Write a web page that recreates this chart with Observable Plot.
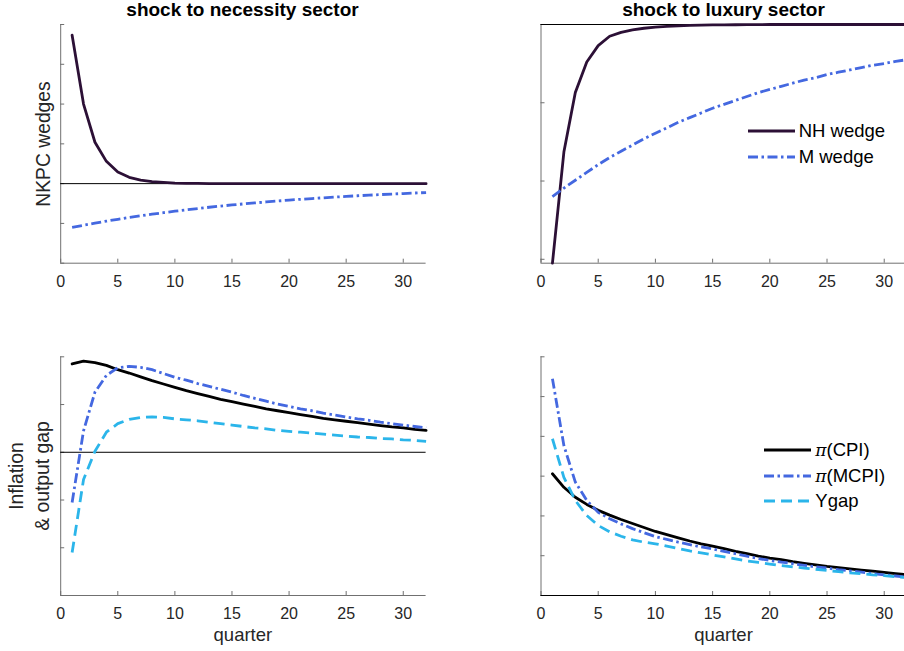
<!DOCTYPE html>
<html>
<head>
<meta charset="utf-8">
<script src="https://cdn.jsdelivr.net/npm/d3@7"></script>
<script src="https://cdn.jsdelivr.net/npm/@observablehq/plot@0.6"></script>
<style>
  html, body { margin: 0; padding: 0; background: #fff; overflow: hidden; }
  #fig { position: relative; width: 904px; height: 651px; overflow: hidden;
         font-family: "Liberation Sans", Arial, Helvetica, sans-serif; }
  .panel { position: absolute; }
  .title { position: absolute; font-weight: bold; font-size: 19px; line-height: 19px;
           color: #000; white-space: nowrap; transform: translateX(-50%); }
  .ylab { position: absolute; font-size: 19.3px; color: #262626; white-space: nowrap;
          text-align: center; transform: translate(-50%, -50%) rotate(-90deg); }
  .xlab { position: absolute; font-size: 18.5px; line-height: 18.5px; color: #262626;
          white-space: nowrap; transform: translateX(-50%); }
  .legend { position: absolute; font-size: 18.5px; color: #000; }
  .legend .row { display: flex; align-items: center; height: 25.7px; white-space: nowrap; }
  .legend svg { display: block; margin-right: 4px; }
  .pi { font-family: "DejaVu Serif", serif; font-style: italic; font-size: 17px; }
</style>
</head>
<body>
<div id="fig"></div>
<script>
// Impulse responses over 32 quarters
const quarters = [1, 2, 3, 4, 5, 6, 7, 8, 9, 10, 11, 12, 13, 14, 15, 16,
                  17, 18, 19, 20, 21, 22, 23, 24, 25, 26, 27, 28, 29, 30, 31, 32];

// Shock to necessity sector: NKPC wedges
const necNH = [3.73, 2.00, 1.04, 0.56, 0.29, 0.16, 0.09, 0.05, 0.03, 0.015, 0.008, 0.004, 0.002, 0.001, 0, 0,
               0, 0, 0, 0, 0, 0, 0, 0, 0, 0, 0, 0, 0, 0, 0, 0];
const necM = [-1.10, -1.045, -0.993, -0.943, -0.896, -0.851, -0.809, -0.768, -0.730, -0.693, -0.659, -0.626,
              -0.594, -0.565, -0.536, -0.510, -0.484, -0.460, -0.437, -0.415, -0.394, -0.375, -0.356, -0.338,
              -0.321, -0.305, -0.290, -0.275, -0.262, -0.249, -0.236, -0.224];

// Shock to luxury sector: NKPC wedges
const luxNH = [-3.05, -1.63, -0.87, -0.48, -0.27, -0.15, -0.10, -0.068, -0.048, -0.034, -0.024, -0.017,
               -0.012, -0.008, -0.006, -0.004, -0.003, -0.002, -0.001, 0, 0, 0, 0, 0, 0, 0, 0, 0, 0, 0, 0, 0];
const luxM = [-2.20, -2.09, -1.99, -1.89, -1.79, -1.70, -1.62, -1.54, -1.46, -1.39, -1.32, -1.25, -1.19,
              -1.13, -1.07, -1.02, -0.97, -0.92, -0.87, -0.83, -0.79, -0.75, -0.71, -0.68, -0.64, -0.61,
              -0.58, -0.55, -0.52, -0.50, -0.47, -0.45];

// Shock to necessity sector: inflation and output gap
const necCPI = [1.85, 1.91, 1.88, 1.82, 1.73, 1.66, 1.58, 1.50, 1.43, 1.36, 1.29, 1.23, 1.17, 1.11, 1.06, 1.01,
                0.96, 0.91, 0.87, 0.83, 0.79, 0.75, 0.71, 0.68, 0.65, 0.62, 0.59, 0.56, 0.53, 0.51, 0.48, 0.46];
const necMCPI = [-1.05, 0.45, 1.26, 1.61, 1.77, 1.80, 1.78, 1.73, 1.65, 1.57, 1.51, 1.44, 1.38, 1.32, 1.26, 1.19,
                 1.13, 1.07, 1.01, 0.96, 0.91, 0.87, 0.82, 0.78, 0.74, 0.70, 0.67, 0.63, 0.60, 0.57, 0.54, 0.51];
const necYgap = [-2.10, -0.57, 0.02, 0.42, 0.60, 0.69, 0.73, 0.74, 0.73, 0.70, 0.68, 0.66, 0.63, 0.60, 0.57, 0.54,
                 0.51, 0.49, 0.46, 0.44, 0.42, 0.40, 0.38, 0.36, 0.34, 0.32, 0.31, 0.29, 0.28, 0.26, 0.25, 0.23];

// Shock to luxury sector: inflation and output gap
const luxCPI = [3.06, 2.72, 2.47, 2.29, 2.14, 2.02, 1.91, 1.81, 1.71, 1.61, 1.53, 1.45, 1.37, 1.30, 1.24, 1.18,
                1.11, 1.05, 0.99, 0.94, 0.90, 0.85, 0.81, 0.77, 0.73, 0.70, 0.67, 0.64, 0.61, 0.58, 0.55, 0.52];
const luxMCPI = [5.45, 3.77, 2.85, 2.39, 2.09, 1.93, 1.80, 1.68, 1.58, 1.48, 1.41, 1.34, 1.28, 1.22, 1.17, 1.11,
                 1.05, 0.99, 0.93, 0.88, 0.84, 0.80, 0.76, 0.72, 0.69, 0.65, 0.62, 0.59, 0.55, 0.52, 0.49, 0.46];
const luxYgap = [3.94, 2.97, 2.39, 2.01, 1.76, 1.60, 1.49, 1.40, 1.34, 1.30, 1.24, 1.18, 1.12, 1.07, 1.02, 0.97,
                 0.92, 0.87, 0.83, 0.79, 0.75, 0.72, 0.69, 0.66, 0.63, 0.60, 0.57, 0.55, 0.52, 0.50, 0.47, 0.45];

// Axis ticks
const xTicks = [0, 5, 10, 15, 20, 25, 30];
const yTicksNecWedge = [-2, -1, 0, 1, 2, 3, 4];
const yTicksLuxWedge = [-3, -2, -1, 0];
const yTicksNecInfl = [-3, -2, -1, 0, 1, 2];
const yTicksLuxInfl = [0, 1, 2, 3, 4, 5, 6];

// Series styles
const styles = {
  nh:   { label: "NH wedge", stroke: "#2c1036", dash: null },
  m:    { label: "M wedge", stroke: "#4468e0", dash: "10,3.5,2.5,3.5" },
  cpi:  { label: "CPI", stroke: "#000000", dash: null },
  mcpi: { label: "MCPI", stroke: "#4468e0", dash: "10,3.5,2.5,3.5" },
  ygap: { label: "Ygap", stroke: "#2bb5ea", dash: "11,6" }
};
const axisColor = "#707070";
const lineWidth = 2.8;

const fig = document.getElementById("fig");

function lineMark(values, style) {
  const rows = quarters.map((q, i) => ({ q, v: values[i] }));
  return Plot.line(rows, {
    x: "q", y: "v", stroke: style.stroke, strokeWidth: lineWidth,
    strokeDasharray: style.dash || undefined,
    strokeLinecap: style.dash ? "butt" : "round"
  });
}

function panel({ left, top, width, height, margin, yDomain, yTicks, series }) {
  const yMin = yDomain[0];
  const svg = Plot.plot({
    width, height,
    marginLeft: margin[0], marginRight: margin[1], marginTop: margin[2], marginBottom: margin[3],
    x: { domain: [0, 32] },
    y: { domain: yDomain, axis: null },
    style: { fontFamily: "Liberation Sans, Arial, sans-serif", fontSize: "16px", color: "#262626",
             background: "transparent", overflow: "visible" },
    marks: [
      // axis lines
      Plot.ruleX([0], { stroke: axisColor, strokeWidth: 1 }),
      Plot.ruleY([yMin], { stroke: axisColor, strokeWidth: 1 }),
      // inward tick marks
      Plot.ruleX(xTicks, { x: d => d, y1: yMin, y2: yMin, insetBottom: 4, stroke: axisColor }),
      Plot.ruleY(yTicks, { y: d => d, x1: 0, x2: 0, insetRight: -4, stroke: axisColor }),
      // zero reference
      Plot.ruleY([0], { stroke: "#000", strokeWidth: 1 }),
      ...series.map(([vals, st]) => lineMark(vals, st)),
      Plot.axisX(xTicks, { tickSize: 0, tickPadding: 12, label: null })
    ]
  });
  const div = document.createElement("div");
  div.className = "panel";
  div.style.left = left + "px";
  div.style.top = top + "px";
  div.style.width = width + "px";
  div.style.height = height + "px";
  div.appendChild(svg);
  fig.appendChild(div);
}

panel({ left: 0, top: 0, width: 452, height: 300, margin: [60.2, 26.4, 24, 37.3],
        yDomain: [-2, 4], yTicks: yTicksNecWedge,
        series: [[necNH, styles.nh], [necM, styles.m]] });
panel({ left: 480, top: 0, width: 452, height: 300, margin: [60.5, 25.4, 24, 37.3],
        yDomain: [-3.05, 0], yTicks: yTicksLuxWedge,
        series: [[luxNH, styles.nh], [luxM, styles.m]] });
panel({ left: 0, top: 330, width: 452, height: 321, margin: [60.2, 26.4, 26.3, 56],
        yDomain: [-3, 2], yTicks: yTicksNecInfl,
        series: [[necCPI, styles.cpi], [necMCPI, styles.mcpi], [necYgap, styles.ygap]] });
panel({ left: 480, top: 330, width: 452, height: 321, margin: [60.5, 25.4, 26.3, 56],
        yDomain: [0, 6], yTicks: yTicksLuxInfl,
        series: [[luxCPI, styles.cpi], [luxMCPI, styles.mcpi], [luxYgap, styles.ygap]] });

// Titles and axis labels
function addText(cls, html, css) {
  const d = document.createElement("div");
  d.className = cls;
  d.innerHTML = html;
  Object.assign(d.style, css);
  fig.appendChild(d);
  return d;
}
addText("title", "shock to necessity sector", { left: "242.5px", top: "0px" });
addText("title", "shock to luxury sector", { left: "723.5px", top: "0px" });
addText("ylab", "NKPC wedges", { left: "43.3px", top: "144px", lineHeight: "19px" });
addText("ylab", "Inflation<br>&amp; output gap", { left: "30px", top: "476px", lineHeight: "26px" });
addText("xlab", "quarter", { left: "242.9px", top: "626px" });
addText("xlab", "quarter", { left: "723.5px", top: "626px" });

// Legends
function legend(left, top, items) {
  const d = document.createElement("div");
  d.className = "legend";
  d.style.left = left + "px";
  d.style.top = top + "px";
  for (const [st, html] of items) {
    const row = document.createElement("div");
    row.className = "row";
    const ns = "http://www.w3.org/2000/svg";
    const s = document.createElementNS(ns, "svg");
    s.setAttribute("width", "47");
    s.setAttribute("height", "8");
    const ln = document.createElementNS(ns, "line");
    ln.setAttribute("x1", "0"); ln.setAttribute("x2", "47");
    ln.setAttribute("y1", "4"); ln.setAttribute("y2", "4");
    ln.setAttribute("stroke", st.stroke);
    ln.setAttribute("stroke-width", lineWidth);
    if (st.dash) ln.setAttribute("stroke-dasharray", st.dash);
    s.appendChild(ln);
    row.appendChild(s);
    const t = document.createElement("span");
    t.innerHTML = html;
    row.appendChild(t);
    d.appendChild(row);
  }
  fig.appendChild(d);
}
legend(747.7, 118.2, [[styles.nh, styles.nh.label], [styles.m, styles.m.label]]);
legend(764.3, 437.2, [
  [styles.cpi, '<span class="pi">π</span>(' + styles.cpi.label + ')'],
  [styles.mcpi, '<span class="pi">π</span>(' + styles.mcpi.label + ')'],
  [styles.ygap, styles.ygap.label]
]);
</script>
</body>
</html>
